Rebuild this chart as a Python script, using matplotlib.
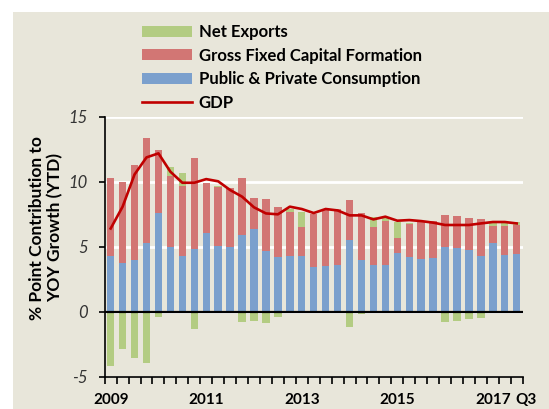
import matplotlib
matplotlib.use("Agg")
import matplotlib.pyplot as plt
from matplotlib.patches import Rectangle
import numpy as np

plt.rcParams['font.family'] = ['Lato', 'DejaVu Sans']
plt.rcParams['axes.unicode_minus'] = False

# quarterly, 2009 Q1 .. 2017 Q3
consumption = [4.28, 3.77, 3.97, 5.26, 7.56, 5.00, 4.28, 4.79, 6.05, 5.05, 5.00, 5.87,
               6.36, 4.67, 4.18, 4.28, 4.28, 3.41, 3.49, 3.59, 5.49, 3.97, 3.56, 3.56,
               4.49, 4.18, 4.03, 4.10, 5.00, 4.87, 4.74, 4.31, 5.31, 4.33, 4.44]
gfcf = [5.98, 6.20, 7.29, 8.10, 4.90, 5.46, 5.41, 7.06, 3.82, 4.57, 4.49, 4.39,
        2.41, 3.97, 3.87, 3.41, 2.26, 4.08, 4.41, 4.28, 3.07, 3.59, 2.98, 3.41,
        1.20, 2.59, 2.94, 2.87, 2.44, 2.49, 2.46, 2.82, 1.28, 2.26, 2.23]
net_exports = [-4.18, -2.87, -3.59, -3.97, -0.38, 0.69, 0.98, -1.31, 0.0, 0.05, 0.05, -0.79,
               -0.69, -0.90, -0.38, 0.18, 1.15, -0.05, 0.0, -0.05, -1.21, -0.18, 0.77, 0.34,
               1.18, 0.05, -0.05, -0.05, -0.77, -0.69, -0.54, -0.46, 0.20, 0.20, 0.20]
gdp = [6.40, 8.08, 10.56, 11.87, 12.18, 10.77, 9.92, 9.92, 10.20, 10.03, 9.36, 8.85,
       8.03, 7.56, 7.49, 8.08, 7.90, 7.59, 7.90, 7.79, 7.41, 7.41, 7.10, 7.31,
       7.00, 7.05, 6.97, 6.85, 6.67, 6.67, 6.67, 6.79, 6.90, 6.90, 6.79]
year_pos = [0, 8, 16, 24, 32]
year_labels = ['2009', '2011', '2013', '2015', '2017']

bg = '#E8E6DA'
c_blue = '#7BA0CD'
c_red = '#D27674'
c_green = '#B3CC82'
c_gdp = '#C00000'

fig = plt.figure(figsize=(5.49, 4.09), dpi=100, facecolor='white')
fig.patches.append(Rectangle((13 / 549, 0), 1, 1 - 12 / 409, transform=fig.transFigure,
                             facecolor=bg, edgecolor='none', zorder=-10))
ax = fig.add_axes([104.7 / 549, 1 - 376.7 / 409, 418 / 549, 260 / 409])
ax.set_facecolor(bg)

x = np.arange(len(gdp))
cons = np.array(consumption)
inv = np.array(gfcf)
nx = np.array(net_exports)
w = 0.62

b1 = ax.bar(x, cons, w, color=c_blue, zorder=2)
b2 = ax.bar(x, inv, w, bottom=cons, color=c_red, zorder=2)
pos = np.where(nx > 0, nx, 0)
neg = np.where(nx < 0, nx, 0)
ax.bar(x, pos, w, bottom=cons + inv, color=c_green, zorder=2)
b3 = ax.bar(x, neg, w, color=c_green, zorder=2)
l1, = ax.plot(x, gdp, color=c_gdp, lw=1.9, zorder=4)

ax.axhline(0, color='black', lw=1.6, zorder=3)
ax.set_ylim(-5, 15)
ax.set_xlim(-0.5, 34.5)
ax.set_yticks([-5, 0, 5, 10, 15])
ax.yaxis.grid(True, color='white', lw=2)
ax.set_axisbelow(True)
for s in ['top', 'right']:
    ax.spines[s].set_visible(False)
ax.spines['left'].set_linewidth(1.2)
ax.spines['bottom'].set_linewidth(1.2)

ax.tick_params(axis='y', direction='out', length=4, width=1.2, pad=8, labelsize=12,
               labelcolor='#333333')
for t in ax.get_yticklabels():
    t.set_fontstyle('italic')

ax.set_xticks(year_pos)
ax.set_xticklabels(year_labels, fontweight='bold', fontsize=11)
ax.set_xticks(np.arange(-0.5, 35, 1), minor=True)
ax.tick_params(axis='x', which='major', length=0, pad=12)
ax.tick_params(axis='x', which='minor', direction='out', length=5, width=1.2)
ax.annotate('Q3', xy=(34.75, -5), xycoords='data', xytext=(0, -12), textcoords='offset points',
            ha='center', va='top', fontsize=11, fontweight='bold', annotation_clip=False)

fig.text(46 / 549, 1 - 228 / 409, '% Point Contribution to\nYOY Growth (YTD)',
         rotation=90, ha='center', va='center', fontsize=12.5, fontweight='bold',
         linespacing=1.15)

fig.legend([b3, b2, b1, l1],
           ['Net Exports', 'Gross Fixed Capital Formation', 'Public & Private Consumption', 'GDP'],
           loc='upper left', bbox_to_anchor=(137 / 549, 1 - 19 / 409), frameon=False,
           prop={'weight': 'bold', 'size': 12}, handlelength=3.0, handleheight=0.66,
           handletextpad=0.4, labelspacing=0.46, borderaxespad=0, borderpad=0.3)

fig.savefig('out.png', dpi=100, facecolor=fig.get_facecolor())
